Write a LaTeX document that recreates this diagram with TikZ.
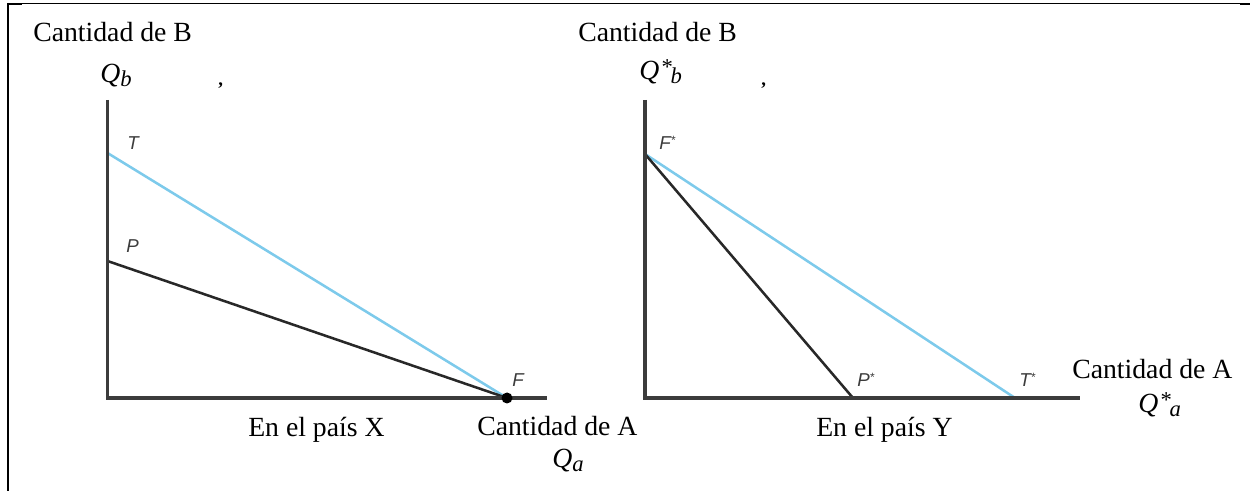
\documentclass[tikz,border=0pt]{standalone}
\usepackage{fontspec}
\setmainfont{Liberation Serif}
\newfontfamily\labfont{Liberation Sans}
\definecolor{axisgray}{RGB}{60,60,60}
\definecolor{lineblack}{RGB}{40,40,40}
\definecolor{tradeblue}{RGB}{125,202,235}
\definecolor{labgray}{RGB}{60,60,60}
\newcommand{\qsub}[1]{\textit{Q}\raisebox{-0.12em}{\fontsize{17}{20}\selectfont\textit{#1}}}
\newcommand{\qstar}[1]{\textit{Q}\kern0.08em\raisebox{0.2em}{\fontsize{17}{20}\selectfont *}\kern-0.08em\raisebox{-0.12em}{\fontsize{17}{20}\selectfont\textit{#1}}}
\newcommand{\lstar}[1]{#1\raisebox{0.3em}{\fontsize{9}{10}\selectfont *}}
\begin{document}
\begin{tikzpicture}[x=0.75pt,y=-0.75pt,
  txt/.style={inner sep=0pt, anchor=base west, font=\fontsize{20.8}{24}\selectfont},
  lab/.style={inner sep=0pt, anchor=base west, text=labgray, font=\labfont\itshape\fontsize{14}{16}\selectfont},
  comma/.style={inner sep=0pt, anchor=base west, font=\bfseries\fontsize{14}{16}\selectfont},
  axis/.style={draw=axisgray, line width=2.3pt},
  budget/.style={draw=lineblack, line width=1.9pt},
  trade/.style={draw=tradeblue, line width=1.9pt},
  frameline/.style={draw=black, line width=1pt}]
\useasboundingbox (0,0) rectangle (1250,491);

% frame
\draw[frameline] (8,3.5) -- (1250,3.5);
\draw[black, line width=1.6pt] (7.7,3) -- (7.7,491);
\draw[black, line width=1.2pt] (8,4.6) -- (22,4.6);
\draw[black, line width=1.2pt] (1240,4.6) -- (1250,4.6);

% ---------- left graph (country X) ----------
\coordinate (O1) at (107.5,398);
\coordinate (Y1) at (107.5,100);
\coordinate (X1) at (547,398);
\coordinate (T) at (107.5,153);
\coordinate (P) at (107.5,261);
\coordinate (F) at (507,398);

\draw[trade] (T) -- (F);
\draw[budget] (P) -- (F);
\draw[axis] (Y1) -- (O1) -- (X1);
\fill[black] (F) circle (5.5);

\node[lab] (lT) at (127,150) {T};
\node[lab] (lP) at (126,253) {P};
\node[lab] (lF) at (512,387) {F};

\node[txt] (cb1) at (33,42) {Cantidad de B};
\node[txt] (qb1) at (100,83) {\qsub{b}};
\node[comma] (c1) at (218,86) {,};
\node[txt] (ca1) at (477,436) {Cantidad de A};
\node[txt] (qa1) at (552,468) {\qsub{a}};
\node[txt] (px) at (248,437) {En el país X};

% ---------- right graph (country Y) ----------
\coordinate (O2) at (645,398);
\coordinate (Y2) at (645,100);
\coordinate (X2) at (1080,398);
\coordinate (Fs) at (645,154);
\coordinate (Ps) at (853,398);
\coordinate (Ts) at (1015,398);

\draw[trade] (Fs) -- (Ts);
\draw[budget] (Fs) -- (Ps);
\draw[axis] (Y2) -- (O2) -- (X2);

\node[lab] (lFs) at (659,150) {\lstar{F}};
\node[lab] (lPs) at (857,387) {\lstar{P}};
\node[lab] (lTs) at (1019,387) {\lstar{T}};

\node[txt] (cb2) at (578,42) {Cantidad de B};
\node[txt] (qb2) at (639,80) {\qstar{b}};
\node[comma] (c2) at (761,86) {,};
\node[txt] (ca2) at (1072,379) {Cantidad de A};
\node[txt] (qa2) at (1138,413) {\qstar{a}};
\node[txt] (py) at (816,437) {En el país Y};
\end{tikzpicture}
\end{document}
